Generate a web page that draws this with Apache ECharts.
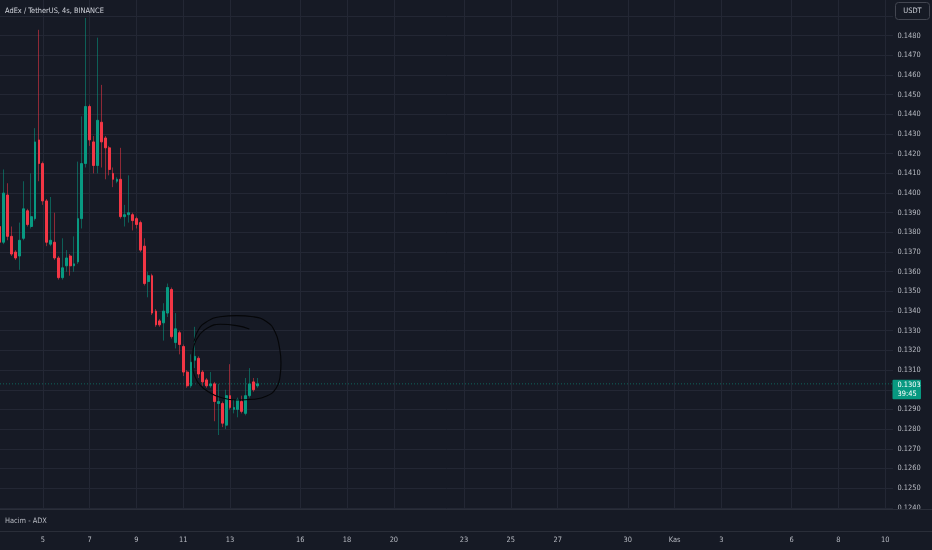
<!DOCTYPE html>
<html><head><meta charset="utf-8">
<script src="https://cdn.jsdelivr.net/npm/echarts@6/dist/echarts.min.js"></script>
<style>html,body{margin:0;padding:0;background:#161a25;}#c{width:932px;height:550px;}</style>
</head><body><div id="c"></div>
<script>
// ---- data (4h candles, AdEx / TetherUS) ----
const opens  = [0.1383,0.1375,0.1399,0.1378,0.1370,0.1368,0.1377,0.1391,0.1383,0.1387,0.1427,0.1415,0.1396,0.1374,0.1375,0.1367,0.1357,0.1363,0.1368,0.1363,0.1365,0.1387,0.1415,0.1444,0.1426,0.1414,0.1436,0.1428,0.1423,0.1410,0.1406,0.1407,0.1388,0.1389,0.1389,0.1387,0.1385,0.1373,0.1355,0.1358,0.1340,0.1335,0.1334,0.1339,0.1351,0.1324,0.1329,0.1322,0.1309,0.1302,0.1315,0.1316,0.1309,0.1305,0.1302,0.1303,0.1293,0.1293,0.1282,0.1297,0.1290,0.1290,0.1294,0.1288,0.1297,0.1304,0.1302];
const closes = [0.1375,0.1400,0.1378,0.1369,0.1367,0.1376,0.1392,0.1384,0.1388,0.1426,0.1415,0.1396,0.1375,0.1376,0.1367,0.1357,0.1362,0.1367,0.1363,0.1364,0.1387,0.1415,0.1444,0.1427,0.1414,0.1437,0.1426,0.1423,0.1412,0.1407,0.1407,0.1388,0.1389,0.1390,0.1386,0.1384,0.1371,0.1354,0.1358,0.1339,0.1333,0.1333,0.1340,0.1352,0.1327,0.1331,0.1323,0.1309,0.1302,0.1314,0.1317,0.1308,0.1304,0.1302,0.1303,0.1294,0.1294,0.1283,0.1297,0.1291,0.1291,0.1295,0.1289,0.1297,0.1303,0.1300,0.1303];
const lows   = [0.1373,0.1374,0.1376,0.1368,0.1366,0.1361,0.1376,0.1383,0.1382,0.1386,0.1406,0.1394,0.1373,0.1373,0.1366,0.1356,0.1356,0.1360,0.1358,0.1360,0.1364,0.1382,0.1413,0.1424,0.1410,0.1410,0.1413,0.1407,0.1409,0.1403,0.1405,0.1387,0.1383,0.1385,0.1381,0.1382,0.1370,0.1353,0.1347,0.1338,0.1332,0.1332,0.1325,0.1337,0.1326,0.1321,0.1318,0.1307,0.1301,0.1301,0.1311,0.1306,0.1302,0.1301,0.1301,0.1284,0.1277,0.1281,0.1280,0.1290,0.1288,0.1286,0.1288,0.1287,0.1296,0.1299,0.1301];
const highs  = [0.1384,0.1412,0.1405,0.1383,0.1371,0.1385,0.1406,0.1392,0.1410,0.1433,0.1483,0.1416,0.1397,0.1398,0.1390,0.1368,0.1377,0.1371,0.1369,0.1378,0.1416,0.1439,0.1489,0.1445,0.1429,0.1479,0.1455,0.1429,0.1424,0.1413,0.1408,0.1423,0.1394,0.1409,0.1390,0.1388,0.1386,0.1377,0.1360,0.1359,0.1341,0.1336,0.1344,0.1354,0.1352,0.1339,0.1330,0.1323,0.1310,0.1318,0.1332,0.1317,0.1310,0.1306,0.1309,0.1304,0.1303,0.1294,0.1300,0.1313,0.1295,0.1296,0.1297,0.1306,0.1311,0.1306,0.1306];

const firstBar = '2023-10-03 04:00';
const lastSlot = '2023-11-10 08:00';
const tickDates  = ['2023-10-05','2023-10-07','2023-10-09','2023-10-11','2023-10-13','2023-10-16','2023-10-18','2023-10-20','2023-10-23','2023-10-25','2023-10-27','2023-10-30','2023-11-01','2023-11-03','2023-11-06','2023-11-08','2023-11-10'];
const tickLabels = ['5','7','9','11','13','16','18','20','23','25','27','30','Kas','3','6','8','10'];

const currentPrice = closes[closes.length - 1];
const countdown = '39:45';
const titleText = 'AdEx / TetherUS, 4s, BINANCE';
const paneText = 'Hacim - ADX';
const quoteText = 'USDT';

// hand-drawn circle annotation, in (bar index, price)
const annIdx   = [63.93,60.70,56.42,53.01,51.11,49.88,49.42,49.42,50.01,51.29,53.42,56.42,60.70,64.96,68.39,70.78,71.80,72.06,71.62,70.52,68.39,64.96,60.70,56.42,53.01,50.85,49.75];
const annPrice = [0.13309,0.13326,0.13333,0.13312,0.13278,0.13233,0.13177,0.13117,0.13066,0.13024,0.12990,0.12962,0.12948,0.12952,0.12968,0.13007,0.13066,0.13135,0.13219,0.13295,0.13346,0.13371,0.13377,0.13371,0.13346,0.13304,0.13244];

// ---- build ----
const BG = '#161a25', GRID = '#232734', TXT = '#b7bac2';
const UP = '#089981', DN = '#f23645';
const FONT = "'DejaVu Sans Condensed', 'Liberation Sans', sans-serif";
const FS = 7.4;
const pad = n => String(n).padStart(2, '0');
const parseT = s => Date.UTC(+s.slice(0,4), +s.slice(5,7)-1, +s.slice(8,10), +s.slice(11,13), +s.slice(14,16));
const fmtT = t => { const d = new Date(t); return d.getUTCFullYear()+'-'+pad(d.getUTCMonth()+1)+'-'+pad(d.getUTCDate())+' '+pad(d.getUTCHours())+':'+pad(d.getUTCMinutes()); };
const categories = [];
for (let t = parseT(firstBar); t <= parseT(lastSlot); t += 4*3600*1000) categories.push(fmtT(t));
const labelOf = {};
tickDates.forEach((d, k) => { labelOf[d + ' 00:00'] = tickLabels[k]; });
const isTick = (i, v) => labelOf[v] !== undefined;

const wickData = opens.map((o, i) => [o, closes[i], lows[i], highs[i]]);
const bodyData = opens.map((o, i) => [o, closes[i], Math.min(o, closes[i]), Math.max(o, closes[i])]);
const lastIdx = categories.length - 1;

const chart = echarts.init(document.getElementById('c'), null, {renderer: 'canvas', width: 932, height: 550});
chart.setOption({
  backgroundColor: BG,
  animation: false,
  textStyle: {fontFamily: FONT},
  grid: {left: 0, right: 39, top: -3.64, height: 531.09, outerBoundsMode: 'none'},
  xAxis: [
    {type: 'category', data: categories, boundaryGap: false,
     axisLine: {show: false}, axisTick: {show: false},
     axisLabel: {interval: isTick, formatter: v => labelOf[v] || '', color: TXT, fontSize: FS, margin: 9, fontFamily: FONT},
     splitLine: {show: true, interval: isTick, lineStyle: {color: GRID, width: 1}}},
    {type: 'value', min: 0, max: lastIdx, show: false}
  ],
  yAxis: {type: 'value', position: 'right', min: 0.123, max: 0.150, interval: 0.001,
    axisLine: {show: false}, axisTick: {show: false},
    axisLabel: {color: TXT, fontSize: FS, margin: 4.5, fontFamily: FONT,
      formatter: v => (v > 0.14855 || v < 0.12355) ? '' : v.toFixed(4)},
    splitLine: {show: true, lineStyle: {color: GRID, width: 1}}},
  series: [
    {type: 'candlestick', name: 'wick', data: wickData, barWidth: 1, z: 2, silent: true,
     itemStyle: {color: 'rgba(8,153,129,0.55)', color0: 'rgba(242,54,69,0.55)',
                 borderColor: 'rgba(8,153,129,0.55)', borderColor0: 'rgba(242,54,69,0.55)', borderWidth: 1}},
    {type: 'candlestick', name: 'body', data: bodyData, barWidth: 2.3, z: 3, silent: true,
     itemStyle: {color: UP, color0: DN, borderColor: UP, borderColor0: DN, borderWidth: 1}},
    {type: 'line', name: 'last', xAxisIndex: 1, yAxisIndex: 0, data: [[0, currentPrice], [lastIdx, currentPrice]],
     symbol: 'none', silent: true, z: 1, lineStyle: {color: 'rgba(8,153,129,0.75)', width: 0.8, type: [1, 2]}},
    {type: 'line', name: 'drawing', xAxisIndex: 1, yAxisIndex: 0, data: annIdx.map((x, i) => [x, annPrice[i]]),
     smooth: 0.5, symbol: 'none', silent: true, z: 5,
     lineStyle: {color: '#050608', width: 1.1}}
  ]
});

const py = chart.convertToPixel({yAxisIndex: 0}, currentPrice);
const F = FS + "px " + FONT;
chart.setOption({graphic: [
  {type: 'text', z: 100, x: 5, y: 11, style: {text: titleText, fill: '#d1d4dc', font: F, verticalAlign: 'middle'}},
  {type: 'rect', z: 100, shape: {x: 895.5, y: 2.5, width: 34, height: 17, r: 3}, style: {fill: BG, stroke: '#434651', lineWidth: 1}},
  {type: 'text', z: 101, x: 912.5, y: 11.5, style: {text: quoteText, fill: '#d1d4dc', font: F, align: 'center', verticalAlign: 'middle'}},
  {type: 'rect', z: 100, shape: {x: 892.5, y: py - 4, width: 28.5, height: 19.5, r: 1}, style: {fill: UP}},
  {type: 'text', z: 101, x: 897.5, y: py + 1, style: {text: currentPrice.toFixed(4), fill: '#ffffff', font: F, verticalAlign: 'middle'}},
  {type: 'text', z: 101, x: 897.5, y: py + 10.3, style: {text: countdown, fill: '#ffffff', font: F, verticalAlign: 'middle'}},
  {type: 'rect', z: 100, shape: {x: 0, y: 509.5, width: 932, height: 22}, style: {fill: BG}},
  {type: 'line', z: 101, shape: {x1: 0, y1: 509.5, x2: 932, y2: 509.5}, style: {stroke: '#2a2e39', lineWidth: 1}},
  {type: 'line', z: 101, shape: {x1: 0, y1: 531.5, x2: 932, y2: 531.5}, style: {stroke: '#2a2e39', lineWidth: 1}},
  {type: 'text', z: 101, x: 5, y: 521, style: {text: paneText, fill: '#b7bac2', font: F, verticalAlign: 'middle'}}
]});
</script></body></html>
